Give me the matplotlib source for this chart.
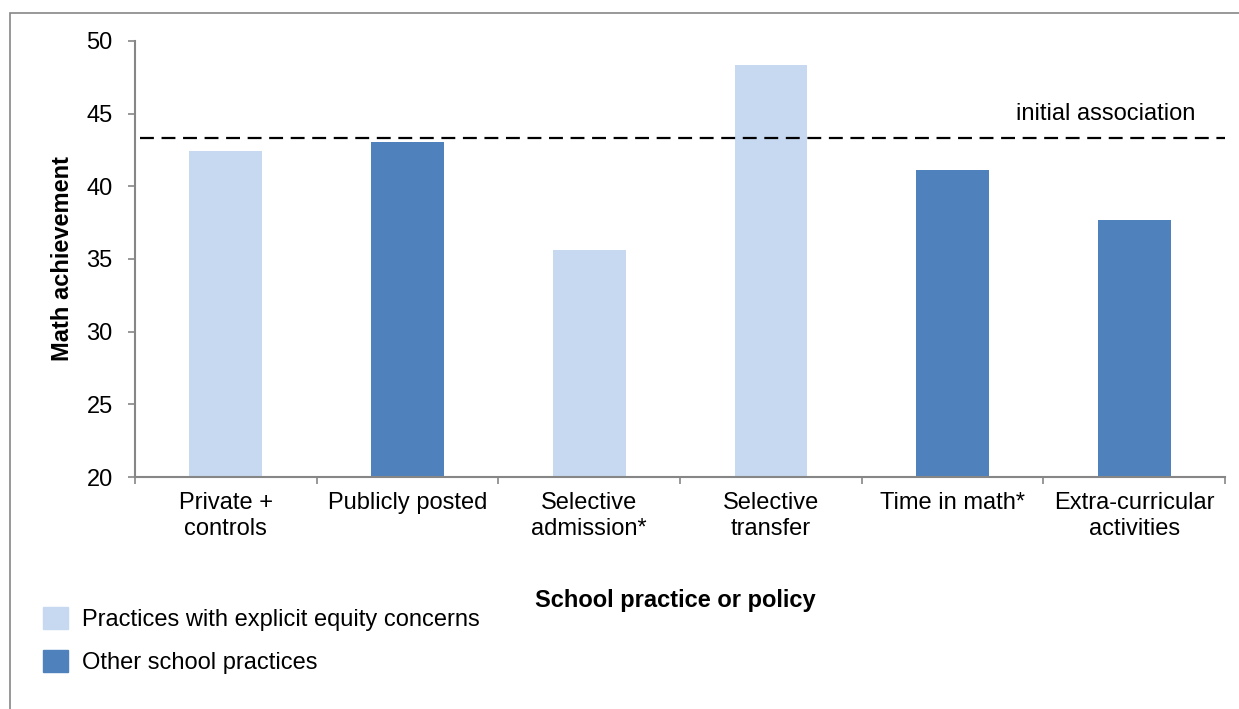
import matplotlib
matplotlib.use("Agg")
import matplotlib.pyplot as plt
from matplotlib.patches import Rectangle, Patch

plt.rcParams['font.family'] = ['Liberation Sans', 'DejaVu Sans']
plt.rcParams['lines.scale_dashes'] = False

categories = ["Private +\ncontrols", "Publicly posted", "Selective\nadmission*",
              "Selective\ntransfer", "Time in math*", "Extra-curricular\nactivities"]
values = [42.4, 43.05, 35.65, 48.35, 41.1, 37.7]
equity_concern = [True, False, True, True, False, False]
initial_association = 43.3

light = "#c6d9f0"
dark = "#4f81bd"
axis_grey = "#868686"
FS = 17

fig = plt.figure(figsize=(12.39, 7.09), dpi=100)
ax = fig.add_axes([135 / 1239, 1 - 477 / 709, (1225 - 135) / 1239, (477 - 41) / 709])

x = list(range(len(categories)))
colors = [light if e else dark for e in equity_concern]
ax.bar(x, [v - 20 for v in values], bottom=20, width=0.4, color=colors, zorder=2)
ax.plot([-0.47, len(categories) - 0.5], [initial_association] * 2, color="black",
        lw=1.6, dashes=(10, 5.5), zorder=3)
ax.text(len(categories) - 0.665, 45.0, "initial association",
        ha="right", va="center", fontsize=FS)

ax.set_xlim(-0.5, len(categories) - 0.5)
ax.set_ylim(20, 50)
ax.set_yticks(range(20, 51, 5))
ax.set_xticks([i - 0.5 for i in range(len(categories) + 1)], minor=False)
ax.set_xticklabels([])
ax.set_xticks(x, minor=True)
ax.set_xticklabels(categories, minor=True, fontsize=FS, linespacing=1.2)
ax.tick_params(axis="x", which="major", length=5, color=axis_grey, width=1.2)
ax.tick_params(axis="x", which="minor", length=0, pad=11)
ax.tick_params(axis="y", length=5, color=axis_grey, width=1.2, labelsize=FS, pad=11)
for side in ("top", "right"):
    ax.spines[side].set_visible(False)
for side in ("left", "bottom"):
    ax.spines[side].set_color(axis_grey)
    ax.spines[side].set_linewidth(1.5)

ax.set_ylabel("Math achievement", fontsize=FS, fontweight="bold", labelpad=9)
fig.text(675 / 1239, 1 - 600 / 709, "School practice or policy", ha="center", va="center",
         fontsize=FS, fontweight="bold")

handles = [Patch(color=light, label="Practices with explicit equity concerns"),
           Patch(color=dark, label="Other school practices")]
fig.legend(handles=handles, loc="upper left", bbox_to_anchor=(43 / 1239, 1 - 607 / 709),
           frameon=False, fontsize=FS, handlelength=1.06, handleheight=1.06,
           handletextpad=0.6, labelspacing=0.81, borderpad=0, borderaxespad=0)

fig.patches.append(Rectangle((10 / 1239, -0.01), 1.02, 1 - 13 / 709 + 0.01,
                             transform=fig.transFigure, fill=False,
                             edgecolor=axis_grey, lw=1.2))

fig.savefig("out.png", dpi=100)
